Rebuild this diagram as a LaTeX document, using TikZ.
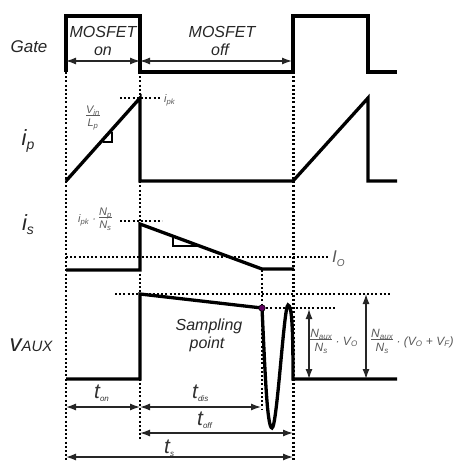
\documentclass[tikz,border=0pt]{standalone}
\usepackage{fontspec}
\setmainfont{Liberation Sans}
\usetikzlibrary{arrows.meta}
\newcommand\myfr[2]{\begin{tabular}{@{}c@{}}#1\\[-2.5pt]\hline\rule{0pt}{1.05em}#2\end{tabular}}
\newcommand\lowsub[2]{#1\raisebox{-3pt}{\fontsize{8}{8}\selectfont #2}}
\begin{document}
\begin{tikzpicture}[x=1pt,y=-1pt,
  wave/.style={line width=3.3pt, line join=miter},
  guide/.style={line width=2.2pt, dash pattern=on 2pt off 2.2pt},
  meas/.style={line width=1.3pt, draw=black!85, {Latex[length=10pt,width=7pt]}-{Latex[length=10pt,width=7pt]}},
  big/.style={font=\fontsize{16}{18}\selectfont\itshape, inner sep=0, anchor=base, text=black!85},
  sig/.style={font=\fontsize{22}{24}\selectfont\itshape, inner sep=0, anchor=base, text=black!85},
  note/.style={text=black!65, font=\fontsize{11}{12}\selectfont\itshape, inner sep=0},
  tlab/.style={text=black!80, font=\fontsize{21}{22}\selectfont\itshape, inner sep=0, anchor=base west},
  tri/.style={line width=1.4pt}
]
\useasboundingbox (0,0) rectangle (454,462);

% guide lines
\draw[guide] (66,72) -- (66,462);
\draw[guide] (140,72) -- (140,440);
\draw[guide] (293.5,72) -- (293.5,462);
\draw[guide] (262,270) -- (262,410);
\draw[guide] (120,98) -- (160,98);
\draw[guide] (120,221) -- (162,221);
\draw[guide] (66,257) -- (328,257);
\draw[guide] (115,294) -- (392,294);
\draw[guide] (262,308) -- (335,308);

% gate
\draw[wave] (66,72) -- (66,16) -- (140,16) -- (140,72) -- (293,72) -- (293,16) -- (368,16) -- (368,72) -- (397,72);
% ip
\draw[wave] (66,181) -- (140,98) -- (140,181) -- (293,181) -- (368,98) -- (368,181) -- (397,181);
\draw[tri] (103,142) -- (112,142) -- (112,132);
% is
\draw[wave] (66,270) -- (140,270) -- (140,224) -- (262,269) -- (294,269);
\draw[tri] (173,236) -- (173,246) -- (199,246);
% vaux
\draw[wave] (66,379) -- (140,379) -- (140,294) -- (262,308)
  .. controls (265,370) and (267,428) .. (272,428)
  .. controls (277,428) and (284,305) .. (288,305)
  .. controls (292,305) and (293,330) .. (293,379) -- (397,379);
\node[circle, fill=violet!75!black, draw=black, line width=0.6pt, inner sep=0, minimum size=6.5pt] (sp) at (262,308) {};

% measurement arrows
\coordinate (a0) at (66,61); \coordinate (a1) at (140,61); \coordinate (a2) at (292,61);
\draw[meas] (a0) -- (a1);
\draw[meas] (a1) -- (a2);
\coordinate (b0) at (66,407); \coordinate (b1) at (140,407); \coordinate (b2) at (261,407);
\draw[meas] (b0) -- (b1);
\draw[meas] (b1) -- (b2);
\coordinate (c1) at (140,433); \coordinate (c2) at (293,433);
\draw[meas] (c1) -- (c2);
\coordinate (d0) at (66,457); \coordinate (d2) at (293,457);
\draw[meas] (d0) -- (d2);
\coordinate (v1) at (309,309); \coordinate (v2) at (309,379);
\draw[meas] (v1) -- (v2);
\coordinate (w1) at (366,294); \coordinate (w2) at (366,379);
\draw[meas] (w1) -- (w2);

% labels
\node[big, font=\fontsize{17}{18}\selectfont\itshape] (gate) at (29,53) {Gate};
\node[big] (m1) at (103,38) {MOSFET};
\node[big] (m2) at (103,56) {on};
\node[big] (m3) at (222,38) {MOSFET};
\node[big] (m4) at (220,56) {off};
\node[sig] (ip) at (28,146) {i\raisebox{-4pt}{\fontsize{14}{14}\selectfont p}};
\node[sig] (is) at (28,230) {i\raisebox{-4pt}{\fontsize{14}{14}\selectfont s}};
\node[sig] (va) at (31,351) {\fontsize{24}{24}\selectfont v\fontsize{15}{15}\selectfont AUX};

\node[note] (vl) at (93,118) {\myfr{V\textsubscript{in}}{L\textsubscript{p}}};
\node[note, anchor=west] (ipk) at (164,100) {i\textsubscript{pk}};
\node[note] (ipkn) at (95,220) {i\textsubscript{pk} · \myfr{N\textsubscript{p}}{N\textsubscript{s}}};
\node[note, anchor=west, font=\fontsize{17}{18}\selectfont\itshape] (io) at (332,259) {I\raisebox{-4pt}{\fontsize{10}{10}\selectfont O}};
\node[note, font=\fontsize{12}{13}\selectfont\itshape] (f1) at (334,342) {\myfr{N\textsubscript{aux}}{N\textsubscript{s}} · V\textsubscript{O}};
\node[note, font=\fontsize{12}{13}\selectfont\itshape, anchor=west] (f2) at (371,342) {\myfr{N\textsubscript{aux}}{N\textsubscript{s}} · (V\textsubscript{O} + V\textsubscript{F})};

\node[big] (s1) at (209,330) {Sampling};
\node[big] (s2) at (207,348) {point};

\node[tlab] (ton) at (94,398) {\lowsub{t}{on}};
\node[tlab] (tdis) at (192,398) {\lowsub{t}{dis}};
\node[tlab] (toff) at (197,425) {\lowsub{t}{off}};
\node[tlab] (ts) at (164,453) {\lowsub{t}{s}};
\end{tikzpicture}
\end{document}
